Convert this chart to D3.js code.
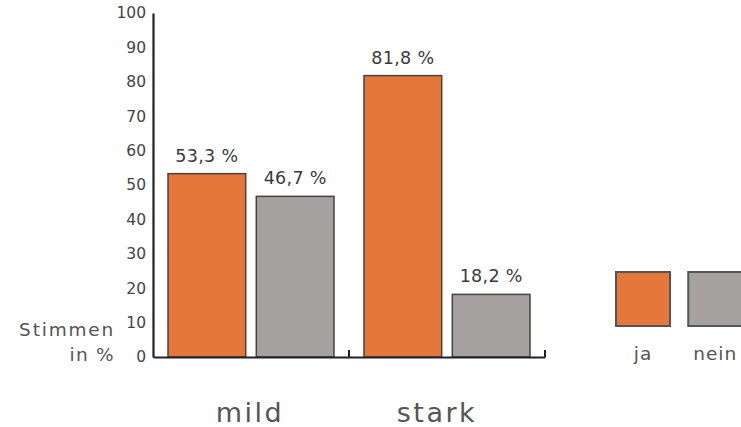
<!DOCTYPE html>
<html>
<head>
<meta charset="utf-8">
<script src="https://cdn.jsdelivr.net/npm/d3@7"></script>
<style>
  html, body { margin: 0; padding: 0; background: #fff; }
  svg { display: block; font-family: "DejaVu Sans", sans-serif; }
</style>
</head>
<body>
<svg id="chart" width="741" height="427"></svg>
<script>
const categories = ["mild", "stark"];
const seriesNames = ["ja", "nein"];
const jaValues = [53.3, 81.8];
const neinValues = [46.7, 18.2];
const yTicks = [0, 10, 20, 30, 40, 50, 60, 70, 80, 90, 100];
const valueLabels = [["53,3 %", "46,7 %"], ["81,8 %", "18,2 %"]];
const colors = ["#E6773A", "#A5A1A1"];

const svg = d3.select("#chart");
const x0 = 153, x1 = 545, yTop = 13, yBot = 357;

const x = d3.scaleBand().domain(categories).range([x0, x1]).paddingInner(0).paddingOuter(0);
const xs = d3.scaleBand().domain(seriesNames).range([0, x.bandwidth()]).paddingInner(0.12).paddingOuter(0.17);
const y = d3.scaleLinear().domain([0, 100]).range([yBot, yTop]);
// category label positions (labels are not exactly centred under the groups)
const xLab = d3.scalePoint().domain(categories).range([250, 437]);

const data = categories.map((c, i) => ({cat: c, vals: [jaValues[i], neinValues[i]]}));

// bars
data.forEach((d, i) => {
  d.vals.forEach((v, j) => {
    const bx = x(d.cat) + xs(seriesNames[j]);
    svg.append("rect")
      .attr("x", bx).attr("y", y(v))
      .attr("width", xs.bandwidth()).attr("height", y(0) - y(v))
      .attr("fill", colors[j]).attr("stroke", "#4a4040").attr("stroke-width", 1.5);
    svg.append("text")
      .attr("x", bx + xs.bandwidth() / 2).attr("y", y(v) - 12)
      .attr("text-anchor", "middle").attr("font-size", 17.5).attr("letter-spacing", 0.3)
      .attr("fill", "#3a3a3a")
      .text(valueLabels[i][j]);
  });
});

// y axis
const yAxis = d3.axisLeft(y).tickValues(yTicks).tickSize(0).tickPadding(7);
const gy = svg.append("g").attr("transform", `translate(${x0},0)`).call(yAxis);
gy.select(".domain").attr("stroke", "#222").attr("stroke-width", 2.2);
gy.selectAll("text").attr("font-size", 15.5).attr("fill", "#444")
  .attr("font-family", "\"DejaVu Sans\", sans-serif");

// x axis
const xAxis = d3.axisBottom(x).tickSize(0).tickFormat("");
const gx = svg.append("g").attr("transform", `translate(0,${yBot})`).call(xAxis);
gx.select(".domain").attr("stroke", "#222").attr("stroke-width", 2.2);
// band boundary ticks (pointing up)
categories.forEach(c => {
  svg.append("line")
    .attr("x1", x(c) + x.bandwidth()).attr("x2", x(c) + x.bandwidth())
    .attr("y1", yBot).attr("y2", yBot - 7)
    .attr("stroke", "#222").attr("stroke-width", 2);
});
// category labels
categories.forEach(c => {
  svg.append("text")
    .attr("x", xLab(c)).attr("y", 422)
    .attr("text-anchor", "middle").attr("font-size", 27).attr("letter-spacing", 2.5)
    .attr("fill", "#555")
    .text(c);
});

// y axis title
svg.append("text").attr("x", 115).attr("y", 336).attr("text-anchor", "end")
  .attr("font-size", 18.5).attr("letter-spacing", 1.8).attr("fill", "#555").text("Stimmen");
svg.append("text").attr("x", 115).attr("y", 361).attr("text-anchor", "end")
  .attr("font-size", 18.5).attr("letter-spacing", 1.3).attr("fill", "#555").text("in %");

// legend
const legX = d3.scaleBand().domain(seriesNames).range([616, 741]).paddingInner(0.27);
seriesNames.forEach((s, j) => {
  svg.append("rect").attr("x", legX(s)).attr("y", 272)
    .attr("width", 54).attr("height", 54)
    .attr("fill", colors[j]).attr("stroke", "#555").attr("stroke-width", 2);
  svg.append("text").attr("x", legX(s) + 27).attr("y", 360)
    .attr("text-anchor", "middle").attr("font-size", 18.5).attr("letter-spacing", 1)
    .attr("fill", "#555").text(s);
});
</script>
</body>
</html>
